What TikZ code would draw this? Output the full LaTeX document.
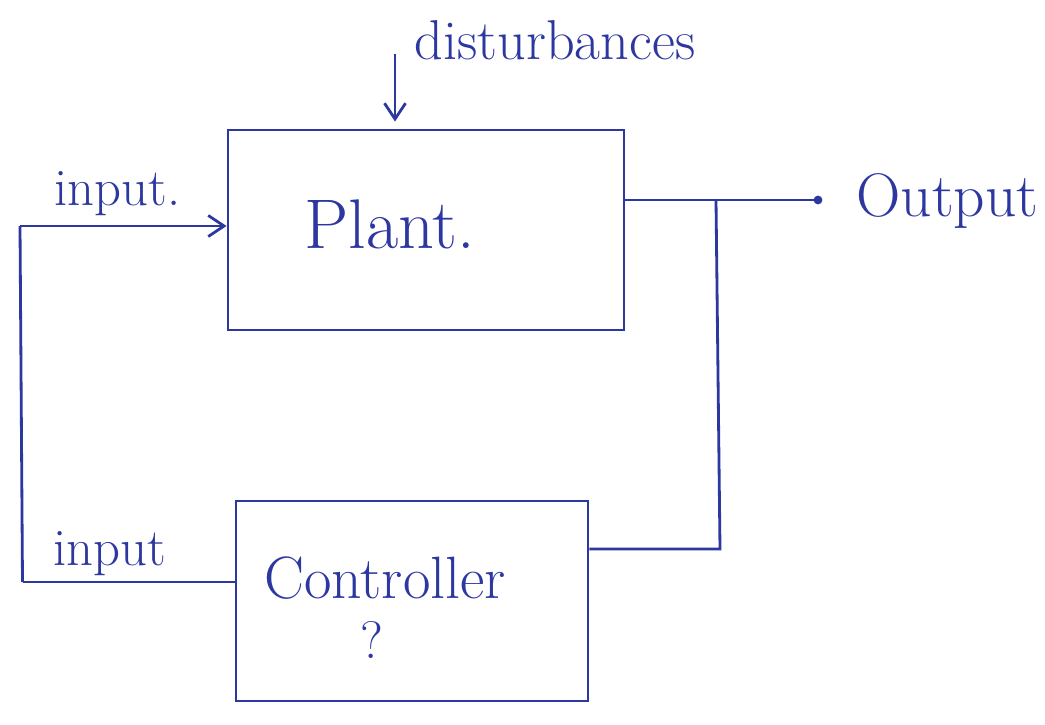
\documentclass[tikz,border=0pt]{standalone}
\usetikzlibrary{arrows.meta}
\definecolor{ink}{RGB}{45,55,160}
\tikzset{
  blk/.style={draw=ink, line width=1.6pt, minimum width=#1, minimum height=4cm, inner sep=0pt},
  lbl/.style={text=ink, font=\fontsize{#1}{#1}\selectfont},
  lbl/.default=30,
  wire/.style={draw=ink, line width=1.6pt},
}
\begin{document}
\begin{tikzpicture}[>={Straight Barb[length=9pt,width=12pt]}]
\useasboundingbox (0,0) rectangle (20.9,14.48);
\node[blk=7.92cm] (plant) at (8.52,9.88) {};
\node[blk=7.04cm] (ctrl) at (8.24,2.46) {};
\node[lbl=40] (plantlbl) at (7.8,10.0) {Plant.};
\node[lbl=34] (ctrllbl) at (7.7,2.92) {Controller};
\node[lbl] (qm) at (7.44,1.68) {?};
\node[lbl=32] (dlbl) at (11.1,13.68) {disturbances};
\node[lbl] (inlbl) at (2.35,10.6) {input.};
\node[lbl] (in2lbl) at (2.2,3.4) {input};
\node[lbl=35] (outlbl) at (18.95,10.45) {Output};
\coordinate (lt) at (0.4,9.96);
\coordinate (lb) at (0.45,2.84);
\coordinate (dist) at (7.9,13.4);
\coordinate (out) at (16.36,10.48);
\coordinate (jn) at (14.32,10.48);
\coordinate (fb) at (14.4,3.5);
\draw[wire] (lb) -- (lt);
\draw[wire,->] (lt) -- (lt -| plant.west);
\draw[wire] (lb) -- (lb -| ctrl.west);
\draw[wire,->,shorten >=4pt] (dist) -- (dist |- plant.north);
\draw[wire] (out -| plant.east) -- (out);
\fill[ink] (out) circle (2.5pt);
\draw[wire] (jn) -- (fb) -- (fb -| ctrl.east);
\end{tikzpicture}
\end{document}
